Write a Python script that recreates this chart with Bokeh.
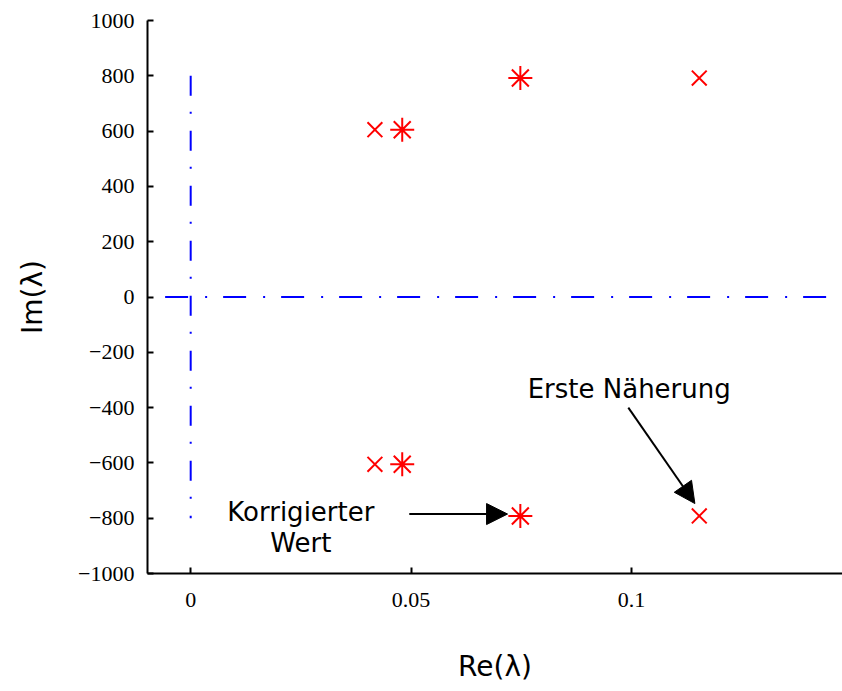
from bokeh.plotting import figure
from bokeh.models import Range1d, FixedTicker, Arrow, NormalHead, ColumnDataSource
from bokeh.embed import file_html
from bokeh.resources import INLINE
from bokeh.core.properties import value

# --- data ---
first_re = [0.0418, 0.0418, 0.1154, 0.1154]          # "Erste Näherung" (x markers)
first_im = [605, -605, 792, -792]
corr_re = [0.0480, 0.0480, 0.0748, 0.0748]            # "Korrigierter Wert" (asterisks)
corr_im = [605, -605, 792, -792]

x_ticks = [0, 0.05, 0.1]
x_tick_labels = ["0", "0.05", "0.1"]
y_ticks = [-1000, -800, -600, -400, -200, 0, 200, 400, 600, 800, 1000]
y_tick_labels = ["\u22121000", "\u2212800", "\u2212600", "\u2212400", "\u2212200", "0",
                 "200", "400", "600", "800", "1000"]

vline_x = [0, 0]
vline_y = [800, -800]
hline_x = [-0.0058, 0.15]
hline_y = [0, 0]

ann_text = ["Erste Näherung", "Korrigierter", "Wert"]
ann_x = [0.0995, 0.0250, 0.0250]
ann_y = [-331, -778, -890]

arrow_x0 = [0.0993, 0.0496]
arrow_y0 = [-400, -785]
arrow_x1 = [0.1144, 0.0719]
arrow_y1 = [-747, -785]

p = figure(width=842, height=691, output_backend="svg", toolbar_location=None,
           x_range=Range1d(-0.0098, 0.1479), y_range=Range1d(-1000, 1000),
           min_border_left=147, min_border_right=0, min_border_top=20,
           min_border_bottom=118)
p.outline_line_color = None
p.xgrid.visible = False
p.ygrid.visible = False
p.background_fill_color = "white"
p.border_fill_color = "white"

# dash-dot reference lines
p.line(vline_x, vline_y, line_color="#0000ff", line_width=2, line_dash="20 16 2 17")
p.line(hline_x, hline_y, line_color="#0000ff", line_width=2, line_dash="23 17 2 16")

# markers
p.scatter(first_re, first_im, marker="x", size=21, line_color="#ff0000", line_width=2)
p.scatter(corr_re, corr_im, marker="asterisk", size=24, line_color="#ff0000", line_width=2)

# annotations
src = ColumnDataSource(dict(x=ann_x, y=ann_y, t=ann_text))
p.text(x="x", y="y", text="t", source=src, text_font=value("DejaVu Sans"),
       text_font_size="26px", text_align="center", text_baseline="alphabetic",
       text_color="black")
for xs, ys, xe, ye in zip(arrow_x0, arrow_y0, arrow_x1, arrow_y1):
    p.add_layout(Arrow(end=NormalHead(size=21, fill_color="black", line_color="black",
                                      line_width=1),
                       x_start=xs, y_start=ys, x_end=xe, y_end=ye,
                       line_color="black", line_width=2))

# axes
for ax in (p.xaxis[0], p.yaxis[0]):
    ax.axis_line_width = 2
    ax.axis_line_color = "black"
    ax.major_tick_line_width = 2
    ax.major_tick_in = 6
    ax.major_tick_out = 0
    ax.minor_tick_line_color = None
    ax.major_label_text_font = "Liberation Serif"
    ax.major_label_text_font_size = "22px"
    ax.major_label_text_color = "black"
    ax.axis_label_text_font = "DejaVu Sans"
    ax.axis_label_text_font_size = "28px"
    ax.axis_label_text_font_style = "normal"
    ax.axis_label_text_color = "black"

p.xaxis.ticker = FixedTicker(ticks=x_ticks)
p.xaxis.major_label_overrides = {t: l for t, l in zip(x_ticks, x_tick_labels)}
p.yaxis.ticker = FixedTicker(ticks=y_ticks)
p.yaxis.major_label_overrides = {t: l for t, l in zip(y_ticks, y_tick_labels)}
p.xaxis.axis_label = "Re(λ)"
p.yaxis.axis_label = "Im(λ)"
p.xaxis.major_label_standoff = 19
p.yaxis.major_label_standoff = 13
p.xaxis.axis_label_standoff = 40
p.yaxis.axis_label_standoff = 26

open("out.html", "w").write(file_html(p, INLINE))
